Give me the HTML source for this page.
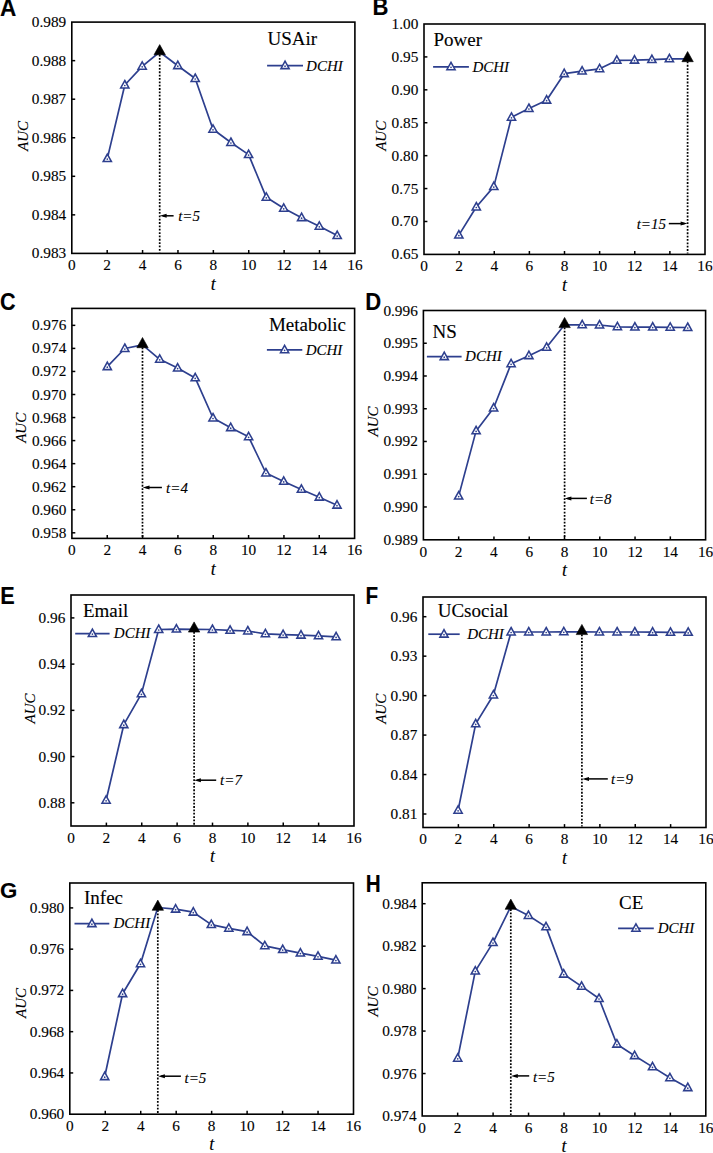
<!DOCTYPE html>
<html><head><meta charset="utf-8"><title>AUC vs t</title>
<style>
html,body{margin:0;padding:0;background:#fff;}
body{width:713px;height:1153px;overflow:hidden;}
svg{display:block;}
text{font-family:"Liberation Serif",serif;fill:#000;stroke:#000;stroke-width:0.12px;}
.tk{font-size:15.3px;}
.ti{font-size:19px;}
.lg{font-size:15px;font-style:italic;}
.an{font-size:15px;font-style:italic;}
.au{font-size:15px;font-style:italic;}
.xl{font-size:18px;font-style:italic;}
.le{font-family:"Liberation Sans",sans-serif;font-weight:bold;font-size:23px;fill:#000;}
.ax{stroke:#000;stroke-width:1.5;}
.fr{fill:none;stroke:#000;stroke-width:1.6;}
.dl{fill:none;stroke:#2d3f8e;stroke-width:1.7;stroke-linejoin:round;}
.dot{stroke:#000;stroke-width:1.7;stroke-dasharray:1.8 1.55;}
.ar{stroke:#000;stroke-width:1.5;}
</style></head><body>
<svg width="713" height="1153" viewBox="0 0 713 1153">
<rect width="713" height="1153" fill="#fff"/>
<text x="66.2" y="258.4" text-anchor="end" class="tk">0.983</text>
<text x="66.2" y="219.85" text-anchor="end" class="tk">0.984</text>
<line x1="71.8" y1="214.85" x2="75.2" y2="214.85" class="ax"/>
<text x="66.2" y="181.3" text-anchor="end" class="tk">0.985</text>
<line x1="71.8" y1="176.3" x2="75.2" y2="176.3" class="ax"/>
<text x="66.2" y="142.75" text-anchor="end" class="tk">0.986</text>
<line x1="71.8" y1="137.75" x2="75.2" y2="137.75" class="ax"/>
<text x="66.2" y="104.2" text-anchor="end" class="tk">0.987</text>
<line x1="71.8" y1="99.2" x2="75.2" y2="99.2" class="ax"/>
<text x="66.2" y="65.65" text-anchor="end" class="tk">0.988</text>
<line x1="71.8" y1="60.65" x2="75.2" y2="60.65" class="ax"/>
<text x="66.2" y="27.1" text-anchor="end" class="tk">0.989</text>
<text x="71.8" y="270.2" text-anchor="middle" class="tk">0</text>
<text x="107.19" y="270.2" text-anchor="middle" class="tk">2</text>
<line x1="107.19" y1="253.4" x2="107.19" y2="250" class="ax"/>
<text x="142.57" y="270.2" text-anchor="middle" class="tk">4</text>
<line x1="142.57" y1="253.4" x2="142.57" y2="250" class="ax"/>
<text x="177.96" y="270.2" text-anchor="middle" class="tk">6</text>
<line x1="177.96" y1="253.4" x2="177.96" y2="250" class="ax"/>
<text x="213.35" y="270.2" text-anchor="middle" class="tk">8</text>
<line x1="213.35" y1="253.4" x2="213.35" y2="250" class="ax"/>
<text x="248.74" y="270.2" text-anchor="middle" class="tk">10</text>
<line x1="248.74" y1="253.4" x2="248.74" y2="250" class="ax"/>
<text x="284.12" y="270.2" text-anchor="middle" class="tk">12</text>
<line x1="284.12" y1="253.4" x2="284.12" y2="250" class="ax"/>
<text x="319.51" y="270.2" text-anchor="middle" class="tk">14</text>
<line x1="319.51" y1="253.4" x2="319.51" y2="250" class="ax"/>
<text x="354.9" y="270.2" text-anchor="middle" class="tk">16</text>
<rect x="71.8" y="22.1" width="283.1" height="231.3" class="fr"/>
<line x1="159.7" y1="54.6" x2="159.7" y2="252.4" class="dot"/>
<polyline points="107.3,158.6 124.8,85 142.2,66.3 159.7,52 177.8,65.7 195.2,78.5 213,129.3 230.9,142.5 248.6,154.6 266.3,197.3 283.7,208.3 301.6,217.7 319.3,226.3 337.2,235.6" class="dl"/>
<path d="M107.3 154.1L111.4 161.5L103.2 161.5Z" fill="#fff" stroke="#2d3f8e" stroke-width="1.55" stroke-linejoin="miter"/><circle cx="107.3" cy="159.1" r="0.85" fill="#2d3f8e"/>
<path d="M124.8 80.5L128.9 87.9L120.7 87.9Z" fill="#fff" stroke="#2d3f8e" stroke-width="1.55" stroke-linejoin="miter"/><circle cx="124.8" cy="85.5" r="0.85" fill="#2d3f8e"/>
<path d="M142.2 61.8L146.3 69.2L138.1 69.2Z" fill="#fff" stroke="#2d3f8e" stroke-width="1.55" stroke-linejoin="miter"/><circle cx="142.2" cy="66.8" r="0.85" fill="#2d3f8e"/>
<path d="M177.8 61.2L181.9 68.6L173.7 68.6Z" fill="#fff" stroke="#2d3f8e" stroke-width="1.55" stroke-linejoin="miter"/><circle cx="177.8" cy="66.2" r="0.85" fill="#2d3f8e"/>
<path d="M195.2 74L199.3 81.4L191.1 81.4Z" fill="#fff" stroke="#2d3f8e" stroke-width="1.55" stroke-linejoin="miter"/><circle cx="195.2" cy="79" r="0.85" fill="#2d3f8e"/>
<path d="M213 124.8L217.1 132.2L208.9 132.2Z" fill="#fff" stroke="#2d3f8e" stroke-width="1.55" stroke-linejoin="miter"/><circle cx="213" cy="129.8" r="0.85" fill="#2d3f8e"/>
<path d="M230.9 138L235 145.4L226.8 145.4Z" fill="#fff" stroke="#2d3f8e" stroke-width="1.55" stroke-linejoin="miter"/><circle cx="230.9" cy="143" r="0.85" fill="#2d3f8e"/>
<path d="M248.6 150.1L252.7 157.5L244.5 157.5Z" fill="#fff" stroke="#2d3f8e" stroke-width="1.55" stroke-linejoin="miter"/><circle cx="248.6" cy="155.1" r="0.85" fill="#2d3f8e"/>
<path d="M266.3 192.8L270.4 200.2L262.2 200.2Z" fill="#fff" stroke="#2d3f8e" stroke-width="1.55" stroke-linejoin="miter"/><circle cx="266.3" cy="197.8" r="0.85" fill="#2d3f8e"/>
<path d="M283.7 203.8L287.8 211.2L279.6 211.2Z" fill="#fff" stroke="#2d3f8e" stroke-width="1.55" stroke-linejoin="miter"/><circle cx="283.7" cy="208.8" r="0.85" fill="#2d3f8e"/>
<path d="M301.6 213.2L305.7 220.6L297.5 220.6Z" fill="#fff" stroke="#2d3f8e" stroke-width="1.55" stroke-linejoin="miter"/><circle cx="301.6" cy="218.2" r="0.85" fill="#2d3f8e"/>
<path d="M319.3 221.8L323.4 229.2L315.2 229.2Z" fill="#fff" stroke="#2d3f8e" stroke-width="1.55" stroke-linejoin="miter"/><circle cx="319.3" cy="226.8" r="0.85" fill="#2d3f8e"/>
<path d="M337.2 231.1L341.3 238.5L333.1 238.5Z" fill="#fff" stroke="#2d3f8e" stroke-width="1.55" stroke-linejoin="miter"/><circle cx="337.2" cy="236.1" r="0.85" fill="#2d3f8e"/>
<path d="M159.7 44.6L165.4 54.8L154 54.8Z" fill="#000" stroke="#000" stroke-width="0.6"/>
<line x1="162.8" y1="215.8" x2="173.6" y2="215.8" class="ar"/>
<path d="M159.8 215.8L166.6 213.8L166.6 217.8Z" fill="#000"/>
<text x="178.2" y="221.4" class="an">t=5</text>
<line x1="267.1" y1="65.7" x2="303" y2="65.7" class="dl"/>
<path d="M285.05 61.2L289.15 68.6L280.95 68.6Z" fill="#fff" stroke="#2d3f8e" stroke-width="1.55" stroke-linejoin="miter"/><circle cx="285.05" cy="66.2" r="0.85" fill="#2d3f8e"/>
<text x="306.1" y="70.6" class="lg">DCHI</text>
<text x="267.5" y="44.6" class="ti">USAir</text>
<text transform="translate(0 15.9) scale(0.98 1)" class="le">A</text>
<text transform="translate(28 136) rotate(-90)" text-anchor="middle" class="au">AUC</text>
<text x="213.35" y="289.6" text-anchor="middle" class="xl">t</text>
<text x="418.4" y="259.4" text-anchor="end" class="tk">0.65</text>
<text x="418.4" y="226.49" text-anchor="end" class="tk">0.70</text>
<line x1="424" y1="221.49" x2="427.4" y2="221.49" class="ax"/>
<text x="418.4" y="193.57" text-anchor="end" class="tk">0.75</text>
<line x1="424" y1="188.57" x2="427.4" y2="188.57" class="ax"/>
<text x="418.4" y="160.66" text-anchor="end" class="tk">0.80</text>
<line x1="424" y1="155.66" x2="427.4" y2="155.66" class="ax"/>
<text x="418.4" y="127.74" text-anchor="end" class="tk">0.85</text>
<line x1="424" y1="122.74" x2="427.4" y2="122.74" class="ax"/>
<text x="418.4" y="94.83" text-anchor="end" class="tk">0.90</text>
<line x1="424" y1="89.83" x2="427.4" y2="89.83" class="ax"/>
<text x="418.4" y="61.91" text-anchor="end" class="tk">0.95</text>
<line x1="424" y1="56.91" x2="427.4" y2="56.91" class="ax"/>
<text x="418.4" y="29" text-anchor="end" class="tk">1.00</text>
<text x="424" y="271.2" text-anchor="middle" class="tk">0</text>
<text x="459.12" y="271.2" text-anchor="middle" class="tk">2</text>
<line x1="459.12" y1="254.4" x2="459.12" y2="251" class="ax"/>
<text x="494.25" y="271.2" text-anchor="middle" class="tk">4</text>
<line x1="494.25" y1="254.4" x2="494.25" y2="251" class="ax"/>
<text x="529.38" y="271.2" text-anchor="middle" class="tk">6</text>
<line x1="529.38" y1="254.4" x2="529.38" y2="251" class="ax"/>
<text x="564.5" y="271.2" text-anchor="middle" class="tk">8</text>
<line x1="564.5" y1="254.4" x2="564.5" y2="251" class="ax"/>
<text x="599.62" y="271.2" text-anchor="middle" class="tk">10</text>
<line x1="599.62" y1="254.4" x2="599.62" y2="251" class="ax"/>
<text x="634.75" y="271.2" text-anchor="middle" class="tk">12</text>
<line x1="634.75" y1="254.4" x2="634.75" y2="251" class="ax"/>
<text x="669.88" y="271.2" text-anchor="middle" class="tk">14</text>
<line x1="669.88" y1="254.4" x2="669.88" y2="251" class="ax"/>
<text x="705" y="271.2" text-anchor="middle" class="tk">16</text>
<rect x="424" y="24" width="281" height="230.4" class="fr"/>
<line x1="687.6" y1="61.5" x2="687.6" y2="253.4" class="dot"/>
<polyline points="458.85,235.1 476.3,207 493.8,186.6 511.5,117.3 528.9,108.5 546.6,100.2 564.2,73.7 582.1,71.1 599.6,68.8 616.8,60.4 634.5,60.2 651.9,59.6 669.4,58.9 687.6,58.9" class="dl"/>
<path d="M458.85 230.6L462.95 238L454.75 238Z" fill="#fff" stroke="#2d3f8e" stroke-width="1.55" stroke-linejoin="miter"/><circle cx="458.85" cy="235.6" r="0.85" fill="#2d3f8e"/>
<path d="M476.3 202.5L480.4 209.9L472.2 209.9Z" fill="#fff" stroke="#2d3f8e" stroke-width="1.55" stroke-linejoin="miter"/><circle cx="476.3" cy="207.5" r="0.85" fill="#2d3f8e"/>
<path d="M493.8 182.1L497.9 189.5L489.7 189.5Z" fill="#fff" stroke="#2d3f8e" stroke-width="1.55" stroke-linejoin="miter"/><circle cx="493.8" cy="187.1" r="0.85" fill="#2d3f8e"/>
<path d="M511.5 112.8L515.6 120.2L507.4 120.2Z" fill="#fff" stroke="#2d3f8e" stroke-width="1.55" stroke-linejoin="miter"/><circle cx="511.5" cy="117.8" r="0.85" fill="#2d3f8e"/>
<path d="M528.9 104L533 111.4L524.8 111.4Z" fill="#fff" stroke="#2d3f8e" stroke-width="1.55" stroke-linejoin="miter"/><circle cx="528.9" cy="109" r="0.85" fill="#2d3f8e"/>
<path d="M546.6 95.7L550.7 103.1L542.5 103.1Z" fill="#fff" stroke="#2d3f8e" stroke-width="1.55" stroke-linejoin="miter"/><circle cx="546.6" cy="100.7" r="0.85" fill="#2d3f8e"/>
<path d="M564.2 69.2L568.3 76.6L560.1 76.6Z" fill="#fff" stroke="#2d3f8e" stroke-width="1.55" stroke-linejoin="miter"/><circle cx="564.2" cy="74.2" r="0.85" fill="#2d3f8e"/>
<path d="M582.1 66.6L586.2 74L578 74Z" fill="#fff" stroke="#2d3f8e" stroke-width="1.55" stroke-linejoin="miter"/><circle cx="582.1" cy="71.6" r="0.85" fill="#2d3f8e"/>
<path d="M599.6 64.3L603.7 71.7L595.5 71.7Z" fill="#fff" stroke="#2d3f8e" stroke-width="1.55" stroke-linejoin="miter"/><circle cx="599.6" cy="69.3" r="0.85" fill="#2d3f8e"/>
<path d="M616.8 55.9L620.9 63.3L612.7 63.3Z" fill="#fff" stroke="#2d3f8e" stroke-width="1.55" stroke-linejoin="miter"/><circle cx="616.8" cy="60.9" r="0.85" fill="#2d3f8e"/>
<path d="M634.5 55.7L638.6 63.1L630.4 63.1Z" fill="#fff" stroke="#2d3f8e" stroke-width="1.55" stroke-linejoin="miter"/><circle cx="634.5" cy="60.7" r="0.85" fill="#2d3f8e"/>
<path d="M651.9 55.1L656 62.5L647.8 62.5Z" fill="#fff" stroke="#2d3f8e" stroke-width="1.55" stroke-linejoin="miter"/><circle cx="651.9" cy="60.1" r="0.85" fill="#2d3f8e"/>
<path d="M669.4 54.4L673.5 61.8L665.3 61.8Z" fill="#fff" stroke="#2d3f8e" stroke-width="1.55" stroke-linejoin="miter"/><circle cx="669.4" cy="59.4" r="0.85" fill="#2d3f8e"/>
<path d="M687.6 51.5L693.3 61.7L681.9 61.7Z" fill="#000" stroke="#000" stroke-width="0.6"/>
<line x1="668.8" y1="223.6" x2="684.4" y2="223.6" class="ar"/>
<path d="M687.4 223.6L680.6 221.6L680.6 225.6Z" fill="#000"/>
<text x="636.7" y="228.9" class="an">t=15</text>
<line x1="433.1" y1="66.8" x2="468.9" y2="66.8" class="dl"/>
<path d="M451 62.3L455.1 69.7L446.9 69.7Z" fill="#fff" stroke="#2d3f8e" stroke-width="1.55" stroke-linejoin="miter"/><circle cx="451" cy="67.3" r="0.85" fill="#2d3f8e"/>
<text x="472.4" y="71.7" class="lg">DCHI</text>
<text x="433.5" y="46.4" class="ti">Power</text>
<text transform="translate(372.4 15.4) scale(0.96 1)" class="le">B</text>
<text transform="translate(386.4 135.8) rotate(-90)" text-anchor="middle" class="au">AUC</text>
<text x="564.5" y="290.6" text-anchor="middle" class="xl">t</text>
<text x="66.3" y="537.8" text-anchor="end" class="tk">0.958</text>
<line x1="71.9" y1="532.8" x2="75.3" y2="532.8" class="ax"/>
<text x="66.3" y="514.75" text-anchor="end" class="tk">0.960</text>
<line x1="71.9" y1="509.75" x2="75.3" y2="509.75" class="ax"/>
<text x="66.3" y="491.7" text-anchor="end" class="tk">0.962</text>
<line x1="71.9" y1="486.7" x2="75.3" y2="486.7" class="ax"/>
<text x="66.3" y="468.65" text-anchor="end" class="tk">0.964</text>
<line x1="71.9" y1="463.65" x2="75.3" y2="463.65" class="ax"/>
<text x="66.3" y="445.6" text-anchor="end" class="tk">0.966</text>
<line x1="71.9" y1="440.6" x2="75.3" y2="440.6" class="ax"/>
<text x="66.3" y="422.55" text-anchor="end" class="tk">0.968</text>
<line x1="71.9" y1="417.55" x2="75.3" y2="417.55" class="ax"/>
<text x="66.3" y="399.5" text-anchor="end" class="tk">0.970</text>
<line x1="71.9" y1="394.5" x2="75.3" y2="394.5" class="ax"/>
<text x="66.3" y="376.45" text-anchor="end" class="tk">0.972</text>
<line x1="71.9" y1="371.45" x2="75.3" y2="371.45" class="ax"/>
<text x="66.3" y="353.4" text-anchor="end" class="tk">0.974</text>
<line x1="71.9" y1="348.4" x2="75.3" y2="348.4" class="ax"/>
<text x="66.3" y="330.35" text-anchor="end" class="tk">0.976</text>
<line x1="71.9" y1="325.35" x2="75.3" y2="325.35" class="ax"/>
<text x="71.9" y="555.2" text-anchor="middle" class="tk">0</text>
<text x="107.24" y="555.2" text-anchor="middle" class="tk">2</text>
<line x1="107.24" y1="538.4" x2="107.24" y2="535" class="ax"/>
<text x="142.58" y="555.2" text-anchor="middle" class="tk">4</text>
<line x1="142.58" y1="538.4" x2="142.58" y2="535" class="ax"/>
<text x="177.91" y="555.2" text-anchor="middle" class="tk">6</text>
<line x1="177.91" y1="538.4" x2="177.91" y2="535" class="ax"/>
<text x="213.25" y="555.2" text-anchor="middle" class="tk">8</text>
<line x1="213.25" y1="538.4" x2="213.25" y2="535" class="ax"/>
<text x="248.59" y="555.2" text-anchor="middle" class="tk">10</text>
<line x1="248.59" y1="538.4" x2="248.59" y2="535" class="ax"/>
<text x="283.93" y="555.2" text-anchor="middle" class="tk">12</text>
<line x1="283.93" y1="538.4" x2="283.93" y2="535" class="ax"/>
<text x="319.26" y="555.2" text-anchor="middle" class="tk">14</text>
<line x1="319.26" y1="538.4" x2="319.26" y2="535" class="ax"/>
<text x="354.6" y="555.2" text-anchor="middle" class="tk">16</text>
<rect x="71.9" y="308.4" width="282.7" height="230" class="fr"/>
<line x1="142.5" y1="347.5" x2="142.5" y2="537.4" class="dot"/>
<polyline points="107.3,366.7 124.8,348.5 142.5,344.9 159.7,359.3 177.6,368.1 195.2,377.9 213,418 230.7,427.7 248.6,436.8 265.9,473 283.7,481.4 301.4,489.4 319.3,497.2 337,505.2" class="dl"/>
<path d="M107.3 362.2L111.4 369.6L103.2 369.6Z" fill="#fff" stroke="#2d3f8e" stroke-width="1.55" stroke-linejoin="miter"/><circle cx="107.3" cy="367.2" r="0.85" fill="#2d3f8e"/>
<path d="M124.8 344L128.9 351.4L120.7 351.4Z" fill="#fff" stroke="#2d3f8e" stroke-width="1.55" stroke-linejoin="miter"/><circle cx="124.8" cy="349" r="0.85" fill="#2d3f8e"/>
<path d="M159.7 354.8L163.8 362.2L155.6 362.2Z" fill="#fff" stroke="#2d3f8e" stroke-width="1.55" stroke-linejoin="miter"/><circle cx="159.7" cy="359.8" r="0.85" fill="#2d3f8e"/>
<path d="M177.6 363.6L181.7 371L173.5 371Z" fill="#fff" stroke="#2d3f8e" stroke-width="1.55" stroke-linejoin="miter"/><circle cx="177.6" cy="368.6" r="0.85" fill="#2d3f8e"/>
<path d="M195.2 373.4L199.3 380.8L191.1 380.8Z" fill="#fff" stroke="#2d3f8e" stroke-width="1.55" stroke-linejoin="miter"/><circle cx="195.2" cy="378.4" r="0.85" fill="#2d3f8e"/>
<path d="M213 413.5L217.1 420.9L208.9 420.9Z" fill="#fff" stroke="#2d3f8e" stroke-width="1.55" stroke-linejoin="miter"/><circle cx="213" cy="418.5" r="0.85" fill="#2d3f8e"/>
<path d="M230.7 423.2L234.8 430.6L226.6 430.6Z" fill="#fff" stroke="#2d3f8e" stroke-width="1.55" stroke-linejoin="miter"/><circle cx="230.7" cy="428.2" r="0.85" fill="#2d3f8e"/>
<path d="M248.6 432.3L252.7 439.7L244.5 439.7Z" fill="#fff" stroke="#2d3f8e" stroke-width="1.55" stroke-linejoin="miter"/><circle cx="248.6" cy="437.3" r="0.85" fill="#2d3f8e"/>
<path d="M265.9 468.5L270 475.9L261.8 475.9Z" fill="#fff" stroke="#2d3f8e" stroke-width="1.55" stroke-linejoin="miter"/><circle cx="265.9" cy="473.5" r="0.85" fill="#2d3f8e"/>
<path d="M283.7 476.9L287.8 484.3L279.6 484.3Z" fill="#fff" stroke="#2d3f8e" stroke-width="1.55" stroke-linejoin="miter"/><circle cx="283.7" cy="481.9" r="0.85" fill="#2d3f8e"/>
<path d="M301.4 484.9L305.5 492.3L297.3 492.3Z" fill="#fff" stroke="#2d3f8e" stroke-width="1.55" stroke-linejoin="miter"/><circle cx="301.4" cy="489.9" r="0.85" fill="#2d3f8e"/>
<path d="M319.3 492.7L323.4 500.1L315.2 500.1Z" fill="#fff" stroke="#2d3f8e" stroke-width="1.55" stroke-linejoin="miter"/><circle cx="319.3" cy="497.7" r="0.85" fill="#2d3f8e"/>
<path d="M337 500.7L341.1 508.1L332.9 508.1Z" fill="#fff" stroke="#2d3f8e" stroke-width="1.55" stroke-linejoin="miter"/><circle cx="337" cy="505.7" r="0.85" fill="#2d3f8e"/>
<path d="M142.5 337.5L148.2 347.7L136.8 347.7Z" fill="#000" stroke="#000" stroke-width="0.6"/>
<line x1="145.7" y1="487.5" x2="161.9" y2="487.5" class="ar"/>
<path d="M142.7 487.5L149.5 485.5L149.5 489.5Z" fill="#000"/>
<text x="166.1" y="492.7" class="an">t=4</text>
<line x1="266.9" y1="349.8" x2="302.3" y2="349.8" class="dl"/>
<path d="M284.6 345.3L288.7 352.7L280.5 352.7Z" fill="#fff" stroke="#2d3f8e" stroke-width="1.55" stroke-linejoin="miter"/><circle cx="284.6" cy="350.3" r="0.85" fill="#2d3f8e"/>
<text x="305.7" y="354.9" class="lg">DCHI</text>
<text x="268.9" y="331.4" class="ti">Metabolic</text>
<text transform="translate(0.1 309.9) scale(0.94 1)" class="le">C</text>
<text transform="translate(25.6 427.8) rotate(-90)" text-anchor="middle" class="au">AUC</text>
<text x="213.25" y="574.6" text-anchor="middle" class="xl">t</text>
<text x="417.8" y="544.7" text-anchor="end" class="tk">0.989</text>
<text x="417.8" y="511.96" text-anchor="end" class="tk">0.990</text>
<line x1="423.4" y1="506.96" x2="426.8" y2="506.96" class="ax"/>
<text x="417.8" y="479.21" text-anchor="end" class="tk">0.991</text>
<line x1="423.4" y1="474.21" x2="426.8" y2="474.21" class="ax"/>
<text x="417.8" y="446.47" text-anchor="end" class="tk">0.992</text>
<line x1="423.4" y1="441.47" x2="426.8" y2="441.47" class="ax"/>
<text x="417.8" y="413.73" text-anchor="end" class="tk">0.993</text>
<line x1="423.4" y1="408.73" x2="426.8" y2="408.73" class="ax"/>
<text x="417.8" y="380.99" text-anchor="end" class="tk">0.994</text>
<line x1="423.4" y1="375.99" x2="426.8" y2="375.99" class="ax"/>
<text x="417.8" y="348.24" text-anchor="end" class="tk">0.995</text>
<line x1="423.4" y1="343.24" x2="426.8" y2="343.24" class="ax"/>
<text x="417.8" y="315.5" text-anchor="end" class="tk">0.996</text>
<text x="423.4" y="556.6" text-anchor="middle" class="tk">0</text>
<text x="458.67" y="556.6" text-anchor="middle" class="tk">2</text>
<line x1="458.67" y1="539.8" x2="458.67" y2="536.4" class="ax"/>
<text x="493.95" y="556.6" text-anchor="middle" class="tk">4</text>
<line x1="493.95" y1="539.8" x2="493.95" y2="536.4" class="ax"/>
<text x="529.23" y="556.6" text-anchor="middle" class="tk">6</text>
<line x1="529.23" y1="539.8" x2="529.23" y2="536.4" class="ax"/>
<text x="564.5" y="556.6" text-anchor="middle" class="tk">8</text>
<line x1="564.5" y1="539.8" x2="564.5" y2="536.4" class="ax"/>
<text x="599.77" y="556.6" text-anchor="middle" class="tk">10</text>
<line x1="599.77" y1="539.8" x2="599.77" y2="536.4" class="ax"/>
<text x="635.05" y="556.6" text-anchor="middle" class="tk">12</text>
<line x1="635.05" y1="539.8" x2="635.05" y2="536.4" class="ax"/>
<text x="670.33" y="556.6" text-anchor="middle" class="tk">14</text>
<line x1="670.33" y1="539.8" x2="670.33" y2="536.4" class="ax"/>
<text x="705.6" y="556.6" text-anchor="middle" class="tk">16</text>
<rect x="423.4" y="310.5" width="282.2" height="229.3" class="fr"/>
<line x1="564.6" y1="327.4" x2="564.6" y2="538.8" class="dot"/>
<polyline points="458.65,496.1 476.1,430.9 493.6,408 511.1,363.8 528.9,355.7 546.6,347.3 564.6,324.8 582.2,324.8 599.5,325 617.4,326.8 634.9,327.1 652.7,327.1 670.2,327.3 687.7,327.5" class="dl"/>
<path d="M458.65 491.6L462.75 499L454.55 499Z" fill="#fff" stroke="#2d3f8e" stroke-width="1.55" stroke-linejoin="miter"/><circle cx="458.65" cy="496.6" r="0.85" fill="#2d3f8e"/>
<path d="M476.1 426.4L480.2 433.8L472 433.8Z" fill="#fff" stroke="#2d3f8e" stroke-width="1.55" stroke-linejoin="miter"/><circle cx="476.1" cy="431.4" r="0.85" fill="#2d3f8e"/>
<path d="M493.6 403.5L497.7 410.9L489.5 410.9Z" fill="#fff" stroke="#2d3f8e" stroke-width="1.55" stroke-linejoin="miter"/><circle cx="493.6" cy="408.5" r="0.85" fill="#2d3f8e"/>
<path d="M511.1 359.3L515.2 366.7L507 366.7Z" fill="#fff" stroke="#2d3f8e" stroke-width="1.55" stroke-linejoin="miter"/><circle cx="511.1" cy="364.3" r="0.85" fill="#2d3f8e"/>
<path d="M528.9 351.2L533 358.6L524.8 358.6Z" fill="#fff" stroke="#2d3f8e" stroke-width="1.55" stroke-linejoin="miter"/><circle cx="528.9" cy="356.2" r="0.85" fill="#2d3f8e"/>
<path d="M546.6 342.8L550.7 350.2L542.5 350.2Z" fill="#fff" stroke="#2d3f8e" stroke-width="1.55" stroke-linejoin="miter"/><circle cx="546.6" cy="347.8" r="0.85" fill="#2d3f8e"/>
<path d="M582.2 320.3L586.3 327.7L578.1 327.7Z" fill="#fff" stroke="#2d3f8e" stroke-width="1.55" stroke-linejoin="miter"/><circle cx="582.2" cy="325.3" r="0.85" fill="#2d3f8e"/>
<path d="M599.5 320.5L603.6 327.9L595.4 327.9Z" fill="#fff" stroke="#2d3f8e" stroke-width="1.55" stroke-linejoin="miter"/><circle cx="599.5" cy="325.5" r="0.85" fill="#2d3f8e"/>
<path d="M617.4 322.3L621.5 329.7L613.3 329.7Z" fill="#fff" stroke="#2d3f8e" stroke-width="1.55" stroke-linejoin="miter"/><circle cx="617.4" cy="327.3" r="0.85" fill="#2d3f8e"/>
<path d="M634.9 322.6L639 330L630.8 330Z" fill="#fff" stroke="#2d3f8e" stroke-width="1.55" stroke-linejoin="miter"/><circle cx="634.9" cy="327.6" r="0.85" fill="#2d3f8e"/>
<path d="M652.7 322.6L656.8 330L648.6 330Z" fill="#fff" stroke="#2d3f8e" stroke-width="1.55" stroke-linejoin="miter"/><circle cx="652.7" cy="327.6" r="0.85" fill="#2d3f8e"/>
<path d="M670.2 322.8L674.3 330.2L666.1 330.2Z" fill="#fff" stroke="#2d3f8e" stroke-width="1.55" stroke-linejoin="miter"/><circle cx="670.2" cy="327.8" r="0.85" fill="#2d3f8e"/>
<path d="M687.7 323L691.8 330.4L683.6 330.4Z" fill="#fff" stroke="#2d3f8e" stroke-width="1.55" stroke-linejoin="miter"/><circle cx="687.7" cy="328" r="0.85" fill="#2d3f8e"/>
<path d="M564.6 317.4L570.3 327.6L558.9 327.6Z" fill="#000" stroke="#000" stroke-width="0.6"/>
<line x1="567.6" y1="498.4" x2="586.9" y2="498.4" class="ar"/>
<path d="M564.6 498.4L571.4 496.4L571.4 500.4Z" fill="#000"/>
<text x="589.8" y="503.9" class="an">t=8</text>
<line x1="426.9" y1="356.7" x2="461.6" y2="356.7" class="dl"/>
<path d="M444.25 352.2L448.35 359.6L440.15 359.6Z" fill="#fff" stroke="#2d3f8e" stroke-width="1.55" stroke-linejoin="miter"/><circle cx="444.25" cy="357.2" r="0.85" fill="#2d3f8e"/>
<text x="465.1" y="361.2" class="lg">DCHI</text>
<text x="432.5" y="338" class="ti">NS</text>
<text transform="translate(365.2 310) scale(0.96 1)" class="le">D</text>
<text transform="translate(377.6 421.5) rotate(-90)" text-anchor="middle" class="au">AUC</text>
<text x="564.5" y="576" text-anchor="middle" class="xl">t</text>
<text x="65.4" y="807.8" text-anchor="end" class="tk">0.88</text>
<line x1="71" y1="802.8" x2="74.4" y2="802.8" class="ax"/>
<text x="65.4" y="761.57" text-anchor="end" class="tk">0.90</text>
<line x1="71" y1="756.57" x2="74.4" y2="756.57" class="ax"/>
<text x="65.4" y="715.35" text-anchor="end" class="tk">0.92</text>
<line x1="71" y1="710.35" x2="74.4" y2="710.35" class="ax"/>
<text x="65.4" y="669.12" text-anchor="end" class="tk">0.94</text>
<line x1="71" y1="664.12" x2="74.4" y2="664.12" class="ax"/>
<text x="65.4" y="622.9" text-anchor="end" class="tk">0.96</text>
<line x1="71" y1="617.9" x2="74.4" y2="617.9" class="ax"/>
<text x="71" y="842.8" text-anchor="middle" class="tk">0</text>
<text x="106.38" y="842.8" text-anchor="middle" class="tk">2</text>
<line x1="106.38" y1="826" x2="106.38" y2="822.6" class="ax"/>
<text x="141.75" y="842.8" text-anchor="middle" class="tk">4</text>
<line x1="141.75" y1="826" x2="141.75" y2="822.6" class="ax"/>
<text x="177.12" y="842.8" text-anchor="middle" class="tk">6</text>
<line x1="177.12" y1="826" x2="177.12" y2="822.6" class="ax"/>
<text x="212.5" y="842.8" text-anchor="middle" class="tk">8</text>
<line x1="212.5" y1="826" x2="212.5" y2="822.6" class="ax"/>
<text x="247.88" y="842.8" text-anchor="middle" class="tk">10</text>
<line x1="247.88" y1="826" x2="247.88" y2="822.6" class="ax"/>
<text x="283.25" y="842.8" text-anchor="middle" class="tk">12</text>
<line x1="283.25" y1="826" x2="283.25" y2="822.6" class="ax"/>
<text x="318.62" y="842.8" text-anchor="middle" class="tk">14</text>
<line x1="318.62" y1="826" x2="318.62" y2="822.6" class="ax"/>
<text x="354" y="842.8" text-anchor="middle" class="tk">16</text>
<rect x="71" y="595" width="283" height="231" class="fr"/>
<line x1="194.1" y1="631.9" x2="194.1" y2="825" class="dot"/>
<polyline points="106.1,800.3 123.8,724.7 141.4,693.9 158.7,629.5 176.4,629.1 194.1,629.3 212.4,629.5 230.1,630.4 247.8,631 265.4,633.8 283.1,634.6 301,635.2 318.5,635.9 336.1,636.9" class="dl"/>
<path d="M106.1 795.8L110.2 803.2L102 803.2Z" fill="#fff" stroke="#2d3f8e" stroke-width="1.55" stroke-linejoin="miter"/><circle cx="106.1" cy="800.8" r="0.85" fill="#2d3f8e"/>
<path d="M123.8 720.2L127.9 727.6L119.7 727.6Z" fill="#fff" stroke="#2d3f8e" stroke-width="1.55" stroke-linejoin="miter"/><circle cx="123.8" cy="725.2" r="0.85" fill="#2d3f8e"/>
<path d="M141.4 689.4L145.5 696.8L137.3 696.8Z" fill="#fff" stroke="#2d3f8e" stroke-width="1.55" stroke-linejoin="miter"/><circle cx="141.4" cy="694.4" r="0.85" fill="#2d3f8e"/>
<path d="M158.7 625L162.8 632.4L154.6 632.4Z" fill="#fff" stroke="#2d3f8e" stroke-width="1.55" stroke-linejoin="miter"/><circle cx="158.7" cy="630" r="0.85" fill="#2d3f8e"/>
<path d="M176.4 624.6L180.5 632L172.3 632Z" fill="#fff" stroke="#2d3f8e" stroke-width="1.55" stroke-linejoin="miter"/><circle cx="176.4" cy="629.6" r="0.85" fill="#2d3f8e"/>
<path d="M212.4 625L216.5 632.4L208.3 632.4Z" fill="#fff" stroke="#2d3f8e" stroke-width="1.55" stroke-linejoin="miter"/><circle cx="212.4" cy="630" r="0.85" fill="#2d3f8e"/>
<path d="M230.1 625.9L234.2 633.3L226 633.3Z" fill="#fff" stroke="#2d3f8e" stroke-width="1.55" stroke-linejoin="miter"/><circle cx="230.1" cy="630.9" r="0.85" fill="#2d3f8e"/>
<path d="M247.8 626.5L251.9 633.9L243.7 633.9Z" fill="#fff" stroke="#2d3f8e" stroke-width="1.55" stroke-linejoin="miter"/><circle cx="247.8" cy="631.5" r="0.85" fill="#2d3f8e"/>
<path d="M265.4 629.3L269.5 636.7L261.3 636.7Z" fill="#fff" stroke="#2d3f8e" stroke-width="1.55" stroke-linejoin="miter"/><circle cx="265.4" cy="634.3" r="0.85" fill="#2d3f8e"/>
<path d="M283.1 630.1L287.2 637.5L279 637.5Z" fill="#fff" stroke="#2d3f8e" stroke-width="1.55" stroke-linejoin="miter"/><circle cx="283.1" cy="635.1" r="0.85" fill="#2d3f8e"/>
<path d="M301 630.7L305.1 638.1L296.9 638.1Z" fill="#fff" stroke="#2d3f8e" stroke-width="1.55" stroke-linejoin="miter"/><circle cx="301" cy="635.7" r="0.85" fill="#2d3f8e"/>
<path d="M318.5 631.4L322.6 638.8L314.4 638.8Z" fill="#fff" stroke="#2d3f8e" stroke-width="1.55" stroke-linejoin="miter"/><circle cx="318.5" cy="636.4" r="0.85" fill="#2d3f8e"/>
<path d="M336.1 632.4L340.2 639.8L332 639.8Z" fill="#fff" stroke="#2d3f8e" stroke-width="1.55" stroke-linejoin="miter"/><circle cx="336.1" cy="637.4" r="0.85" fill="#2d3f8e"/>
<path d="M194.1 621.9L199.8 632.1L188.4 632.1Z" fill="#000" stroke="#000" stroke-width="0.6"/>
<line x1="197.1" y1="780.2" x2="216.2" y2="780.2" class="ar"/>
<path d="M194.1 780.2L200.9 778.2L200.9 782.2Z" fill="#000"/>
<text x="220.1" y="785.3" class="an">t=7</text>
<line x1="75.2" y1="633.6" x2="109.6" y2="633.6" class="dl"/>
<path d="M92.4 629.1L96.5 636.5L88.3 636.5Z" fill="#fff" stroke="#2d3f8e" stroke-width="1.55" stroke-linejoin="miter"/><circle cx="92.4" cy="634.1" r="0.85" fill="#2d3f8e"/>
<text x="113.8" y="637.8" class="lg">DCHI</text>
<text x="82.9" y="617.2" class="ti">Email</text>
<text transform="translate(0.2 604.3) scale(0.945 1)" class="le">E</text>
<text transform="translate(35.4 708.5) rotate(-90)" text-anchor="middle" class="au">AUC</text>
<text x="212.5" y="862.2" text-anchor="middle" class="xl">t</text>
<text x="417.4" y="819" text-anchor="end" class="tk">0.81</text>
<line x1="423" y1="814" x2="426.4" y2="814" class="ax"/>
<text x="417.4" y="779.54" text-anchor="end" class="tk">0.84</text>
<line x1="423" y1="774.54" x2="426.4" y2="774.54" class="ax"/>
<text x="417.4" y="740.08" text-anchor="end" class="tk">0.87</text>
<line x1="423" y1="735.08" x2="426.4" y2="735.08" class="ax"/>
<text x="417.4" y="700.62" text-anchor="end" class="tk">0.90</text>
<line x1="423" y1="695.62" x2="426.4" y2="695.62" class="ax"/>
<text x="417.4" y="661.16" text-anchor="end" class="tk">0.93</text>
<line x1="423" y1="656.16" x2="426.4" y2="656.16" class="ax"/>
<text x="417.4" y="621.7" text-anchor="end" class="tk">0.96</text>
<line x1="423" y1="616.7" x2="426.4" y2="616.7" class="ax"/>
<text x="423" y="844.3" text-anchor="middle" class="tk">0</text>
<text x="458.38" y="844.3" text-anchor="middle" class="tk">2</text>
<line x1="458.38" y1="827.5" x2="458.38" y2="824.1" class="ax"/>
<text x="493.75" y="844.3" text-anchor="middle" class="tk">4</text>
<line x1="493.75" y1="827.5" x2="493.75" y2="824.1" class="ax"/>
<text x="529.12" y="844.3" text-anchor="middle" class="tk">6</text>
<line x1="529.12" y1="827.5" x2="529.12" y2="824.1" class="ax"/>
<text x="564.5" y="844.3" text-anchor="middle" class="tk">8</text>
<line x1="564.5" y1="827.5" x2="564.5" y2="824.1" class="ax"/>
<text x="599.88" y="844.3" text-anchor="middle" class="tk">10</text>
<line x1="599.88" y1="827.5" x2="599.88" y2="824.1" class="ax"/>
<text x="635.25" y="844.3" text-anchor="middle" class="tk">12</text>
<line x1="635.25" y1="827.5" x2="635.25" y2="824.1" class="ax"/>
<text x="670.62" y="844.3" text-anchor="middle" class="tk">14</text>
<line x1="670.62" y1="827.5" x2="670.62" y2="824.1" class="ax"/>
<text x="706" y="844.3" text-anchor="middle" class="tk">16</text>
<rect x="423" y="597" width="283" height="230.5" class="fr"/>
<line x1="581.9" y1="634.4" x2="581.9" y2="826.5" class="dot"/>
<polyline points="458.1,810.3 475.7,723.9 493.4,695 511.1,632 528.7,632 546.2,632 563.8,631.8 581.9,631.8 599.4,632 617.1,632 634.8,632 652.6,632.2 670.5,632.4 688.2,632.4" class="dl"/>
<path d="M458.1 805.8L462.2 813.2L454 813.2Z" fill="#fff" stroke="#2d3f8e" stroke-width="1.55" stroke-linejoin="miter"/><circle cx="458.1" cy="810.8" r="0.85" fill="#2d3f8e"/>
<path d="M475.7 719.4L479.8 726.8L471.6 726.8Z" fill="#fff" stroke="#2d3f8e" stroke-width="1.55" stroke-linejoin="miter"/><circle cx="475.7" cy="724.4" r="0.85" fill="#2d3f8e"/>
<path d="M493.4 690.5L497.5 697.9L489.3 697.9Z" fill="#fff" stroke="#2d3f8e" stroke-width="1.55" stroke-linejoin="miter"/><circle cx="493.4" cy="695.5" r="0.85" fill="#2d3f8e"/>
<path d="M511.1 627.5L515.2 634.9L507 634.9Z" fill="#fff" stroke="#2d3f8e" stroke-width="1.55" stroke-linejoin="miter"/><circle cx="511.1" cy="632.5" r="0.85" fill="#2d3f8e"/>
<path d="M528.7 627.5L532.8 634.9L524.6 634.9Z" fill="#fff" stroke="#2d3f8e" stroke-width="1.55" stroke-linejoin="miter"/><circle cx="528.7" cy="632.5" r="0.85" fill="#2d3f8e"/>
<path d="M546.2 627.5L550.3 634.9L542.1 634.9Z" fill="#fff" stroke="#2d3f8e" stroke-width="1.55" stroke-linejoin="miter"/><circle cx="546.2" cy="632.5" r="0.85" fill="#2d3f8e"/>
<path d="M563.8 627.3L567.9 634.7L559.7 634.7Z" fill="#fff" stroke="#2d3f8e" stroke-width="1.55" stroke-linejoin="miter"/><circle cx="563.8" cy="632.3" r="0.85" fill="#2d3f8e"/>
<path d="M599.4 627.5L603.5 634.9L595.3 634.9Z" fill="#fff" stroke="#2d3f8e" stroke-width="1.55" stroke-linejoin="miter"/><circle cx="599.4" cy="632.5" r="0.85" fill="#2d3f8e"/>
<path d="M617.1 627.5L621.2 634.9L613 634.9Z" fill="#fff" stroke="#2d3f8e" stroke-width="1.55" stroke-linejoin="miter"/><circle cx="617.1" cy="632.5" r="0.85" fill="#2d3f8e"/>
<path d="M634.8 627.5L638.9 634.9L630.7 634.9Z" fill="#fff" stroke="#2d3f8e" stroke-width="1.55" stroke-linejoin="miter"/><circle cx="634.8" cy="632.5" r="0.85" fill="#2d3f8e"/>
<path d="M652.6 627.7L656.7 635.1L648.5 635.1Z" fill="#fff" stroke="#2d3f8e" stroke-width="1.55" stroke-linejoin="miter"/><circle cx="652.6" cy="632.7" r="0.85" fill="#2d3f8e"/>
<path d="M670.5 627.9L674.6 635.3L666.4 635.3Z" fill="#fff" stroke="#2d3f8e" stroke-width="1.55" stroke-linejoin="miter"/><circle cx="670.5" cy="632.9" r="0.85" fill="#2d3f8e"/>
<path d="M688.2 627.9L692.3 635.3L684.1 635.3Z" fill="#fff" stroke="#2d3f8e" stroke-width="1.55" stroke-linejoin="miter"/><circle cx="688.2" cy="632.9" r="0.85" fill="#2d3f8e"/>
<path d="M581.9 624.4L587.6 634.6L576.2 634.6Z" fill="#000" stroke="#000" stroke-width="0.6"/>
<line x1="585.2" y1="778.9" x2="607.8" y2="778.9" class="ar"/>
<path d="M582.2 778.9L589 776.9L589 780.9Z" fill="#000"/>
<text x="611.1" y="783.7" class="an">t=9</text>
<line x1="428.3" y1="634.2" x2="459.7" y2="634.2" class="dl"/>
<path d="M444 629.7L448.1 637.1L439.9 637.1Z" fill="#fff" stroke="#2d3f8e" stroke-width="1.55" stroke-linejoin="miter"/><circle cx="444" cy="634.7" r="0.85" fill="#2d3f8e"/>
<text x="467.2" y="639.1" class="lg">DCHI</text>
<text x="437.7" y="617.3" class="ti">UCsocial</text>
<text transform="translate(365.6 604.1) scale(0.9 1)" class="le">F</text>
<text transform="translate(386.4 708.8) rotate(-90)" text-anchor="middle" class="au">AUC</text>
<text x="564.5" y="863.7" text-anchor="middle" class="xl">t</text>
<text x="64.2" y="1119.2" text-anchor="end" class="tk">0.960</text>
<text x="64.2" y="1077.94" text-anchor="end" class="tk">0.964</text>
<line x1="69.8" y1="1072.94" x2="73.2" y2="1072.94" class="ax"/>
<text x="64.2" y="1036.68" text-anchor="end" class="tk">0.968</text>
<line x1="69.8" y1="1031.68" x2="73.2" y2="1031.68" class="ax"/>
<text x="64.2" y="995.42" text-anchor="end" class="tk">0.972</text>
<line x1="69.8" y1="990.42" x2="73.2" y2="990.42" class="ax"/>
<text x="64.2" y="954.16" text-anchor="end" class="tk">0.976</text>
<line x1="69.8" y1="949.16" x2="73.2" y2="949.16" class="ax"/>
<text x="64.2" y="912.9" text-anchor="end" class="tk">0.980</text>
<line x1="69.8" y1="907.9" x2="73.2" y2="907.9" class="ax"/>
<text x="69.8" y="1131" text-anchor="middle" class="tk">0</text>
<text x="105.26" y="1131" text-anchor="middle" class="tk">2</text>
<line x1="105.26" y1="1114.2" x2="105.26" y2="1110.8" class="ax"/>
<text x="140.72" y="1131" text-anchor="middle" class="tk">4</text>
<line x1="140.72" y1="1114.2" x2="140.72" y2="1110.8" class="ax"/>
<text x="176.19" y="1131" text-anchor="middle" class="tk">6</text>
<line x1="176.19" y1="1114.2" x2="176.19" y2="1110.8" class="ax"/>
<text x="211.65" y="1131" text-anchor="middle" class="tk">8</text>
<line x1="211.65" y1="1114.2" x2="211.65" y2="1110.8" class="ax"/>
<text x="247.11" y="1131" text-anchor="middle" class="tk">10</text>
<line x1="247.11" y1="1114.2" x2="247.11" y2="1110.8" class="ax"/>
<text x="282.57" y="1131" text-anchor="middle" class="tk">12</text>
<line x1="282.57" y1="1114.2" x2="282.57" y2="1110.8" class="ax"/>
<text x="318.04" y="1131" text-anchor="middle" class="tk">14</text>
<line x1="318.04" y1="1114.2" x2="318.04" y2="1110.8" class="ax"/>
<text x="353.5" y="1131" text-anchor="middle" class="tk">16</text>
<rect x="69.8" y="883" width="283.7" height="231.2" class="fr"/>
<line x1="157.8" y1="910.1" x2="157.8" y2="1113.2" class="dot"/>
<polyline points="104.7,1076.7 122.6,993.7 140.5,963.8 157.8,907.5 175.6,909.2 193.3,912.2 211.3,924.6 228.8,928.3 247.1,931.7 264.8,945.8 282.7,949.6 300.4,953.1 318,956.3 335.9,960.1" class="dl"/>
<path d="M104.7 1072.2L108.8 1079.6L100.6 1079.6Z" fill="#fff" stroke="#2d3f8e" stroke-width="1.55" stroke-linejoin="miter"/><circle cx="104.7" cy="1077.2" r="0.85" fill="#2d3f8e"/>
<path d="M122.6 989.2L126.7 996.6L118.5 996.6Z" fill="#fff" stroke="#2d3f8e" stroke-width="1.55" stroke-linejoin="miter"/><circle cx="122.6" cy="994.2" r="0.85" fill="#2d3f8e"/>
<path d="M140.5 959.3L144.6 966.7L136.4 966.7Z" fill="#fff" stroke="#2d3f8e" stroke-width="1.55" stroke-linejoin="miter"/><circle cx="140.5" cy="964.3" r="0.85" fill="#2d3f8e"/>
<path d="M175.6 904.7L179.7 912.1L171.5 912.1Z" fill="#fff" stroke="#2d3f8e" stroke-width="1.55" stroke-linejoin="miter"/><circle cx="175.6" cy="909.7" r="0.85" fill="#2d3f8e"/>
<path d="M193.3 907.7L197.4 915.1L189.2 915.1Z" fill="#fff" stroke="#2d3f8e" stroke-width="1.55" stroke-linejoin="miter"/><circle cx="193.3" cy="912.7" r="0.85" fill="#2d3f8e"/>
<path d="M211.3 920.1L215.4 927.5L207.2 927.5Z" fill="#fff" stroke="#2d3f8e" stroke-width="1.55" stroke-linejoin="miter"/><circle cx="211.3" cy="925.1" r="0.85" fill="#2d3f8e"/>
<path d="M228.8 923.8L232.9 931.2L224.7 931.2Z" fill="#fff" stroke="#2d3f8e" stroke-width="1.55" stroke-linejoin="miter"/><circle cx="228.8" cy="928.8" r="0.85" fill="#2d3f8e"/>
<path d="M247.1 927.2L251.2 934.6L243 934.6Z" fill="#fff" stroke="#2d3f8e" stroke-width="1.55" stroke-linejoin="miter"/><circle cx="247.1" cy="932.2" r="0.85" fill="#2d3f8e"/>
<path d="M264.8 941.3L268.9 948.7L260.7 948.7Z" fill="#fff" stroke="#2d3f8e" stroke-width="1.55" stroke-linejoin="miter"/><circle cx="264.8" cy="946.3" r="0.85" fill="#2d3f8e"/>
<path d="M282.7 945.1L286.8 952.5L278.6 952.5Z" fill="#fff" stroke="#2d3f8e" stroke-width="1.55" stroke-linejoin="miter"/><circle cx="282.7" cy="950.1" r="0.85" fill="#2d3f8e"/>
<path d="M300.4 948.6L304.5 956L296.3 956Z" fill="#fff" stroke="#2d3f8e" stroke-width="1.55" stroke-linejoin="miter"/><circle cx="300.4" cy="953.6" r="0.85" fill="#2d3f8e"/>
<path d="M318 951.8L322.1 959.2L313.9 959.2Z" fill="#fff" stroke="#2d3f8e" stroke-width="1.55" stroke-linejoin="miter"/><circle cx="318" cy="956.8" r="0.85" fill="#2d3f8e"/>
<path d="M335.9 955.6L340 963L331.8 963Z" fill="#fff" stroke="#2d3f8e" stroke-width="1.55" stroke-linejoin="miter"/><circle cx="335.9" cy="960.6" r="0.85" fill="#2d3f8e"/>
<path d="M157.8 900.1L163.5 910.3L152.1 910.3Z" fill="#000" stroke="#000" stroke-width="0.6"/>
<line x1="161.1" y1="1076.2" x2="180.9" y2="1076.2" class="ar"/>
<path d="M158.1 1076.2L164.9 1074.2L164.9 1078.2Z" fill="#000"/>
<text x="184.5" y="1082.7" class="an">t=5</text>
<line x1="74.5" y1="923.7" x2="109.3" y2="923.7" class="dl"/>
<path d="M91.9 919.2L96 926.6L87.8 926.6Z" fill="#fff" stroke="#2d3f8e" stroke-width="1.55" stroke-linejoin="miter"/><circle cx="91.9" cy="924.2" r="0.85" fill="#2d3f8e"/>
<text x="113.5" y="927.9" class="lg">DCHI</text>
<text x="84" y="904.3" class="ti">Infec</text>
<text transform="translate(0 897.6) scale(0.97 1)" class="le">G</text>
<text transform="translate(25.9 1003) rotate(-90)" text-anchor="middle" class="au">AUC</text>
<text x="211.65" y="1150.4" text-anchor="middle" class="xl">t</text>
<text x="416.6" y="1121" text-anchor="end" class="tk">0.974</text>
<text x="416.6" y="1078.54" text-anchor="end" class="tk">0.976</text>
<line x1="422.2" y1="1073.54" x2="425.6" y2="1073.54" class="ax"/>
<text x="416.6" y="1036.08" text-anchor="end" class="tk">0.978</text>
<line x1="422.2" y1="1031.08" x2="425.6" y2="1031.08" class="ax"/>
<text x="416.6" y="993.62" text-anchor="end" class="tk">0.980</text>
<line x1="422.2" y1="988.62" x2="425.6" y2="988.62" class="ax"/>
<text x="416.6" y="951.16" text-anchor="end" class="tk">0.982</text>
<line x1="422.2" y1="946.16" x2="425.6" y2="946.16" class="ax"/>
<text x="416.6" y="908.7" text-anchor="end" class="tk">0.984</text>
<line x1="422.2" y1="903.7" x2="425.6" y2="903.7" class="ax"/>
<text x="422.2" y="1132.8" text-anchor="middle" class="tk">0</text>
<text x="457.65" y="1132.8" text-anchor="middle" class="tk">2</text>
<line x1="457.65" y1="1116" x2="457.65" y2="1112.6" class="ax"/>
<text x="493.1" y="1132.8" text-anchor="middle" class="tk">4</text>
<line x1="493.1" y1="1116" x2="493.1" y2="1112.6" class="ax"/>
<text x="528.55" y="1132.8" text-anchor="middle" class="tk">6</text>
<line x1="528.55" y1="1116" x2="528.55" y2="1112.6" class="ax"/>
<text x="564" y="1132.8" text-anchor="middle" class="tk">8</text>
<line x1="564" y1="1116" x2="564" y2="1112.6" class="ax"/>
<text x="599.45" y="1132.8" text-anchor="middle" class="tk">10</text>
<line x1="599.45" y1="1116" x2="599.45" y2="1112.6" class="ax"/>
<text x="634.9" y="1132.8" text-anchor="middle" class="tk">12</text>
<line x1="634.9" y1="1116" x2="634.9" y2="1112.6" class="ax"/>
<text x="670.35" y="1132.8" text-anchor="middle" class="tk">14</text>
<line x1="670.35" y1="1116" x2="670.35" y2="1112.6" class="ax"/>
<text x="705.8" y="1132.8" text-anchor="middle" class="tk">16</text>
<rect x="422.2" y="882.8" width="283.6" height="233.2" class="fr"/>
<line x1="510.8" y1="909.1" x2="510.8" y2="1115" class="dot"/>
<polyline points="457.7,1058.3 475.3,971.1 493,942.6 510.8,906.5 528.4,915.5 546,926.9 563.7,974.2 581.6,986.4 599,998.5 616.9,1044.2 634.6,1055.7 652.5,1066.9 669.9,1077.8 687.8,1087.7" class="dl"/>
<path d="M457.7 1053.8L461.8 1061.2L453.6 1061.2Z" fill="#fff" stroke="#2d3f8e" stroke-width="1.55" stroke-linejoin="miter"/><circle cx="457.7" cy="1058.8" r="0.85" fill="#2d3f8e"/>
<path d="M475.3 966.6L479.4 974L471.2 974Z" fill="#fff" stroke="#2d3f8e" stroke-width="1.55" stroke-linejoin="miter"/><circle cx="475.3" cy="971.6" r="0.85" fill="#2d3f8e"/>
<path d="M493 938.1L497.1 945.5L488.9 945.5Z" fill="#fff" stroke="#2d3f8e" stroke-width="1.55" stroke-linejoin="miter"/><circle cx="493" cy="943.1" r="0.85" fill="#2d3f8e"/>
<path d="M528.4 911L532.5 918.4L524.3 918.4Z" fill="#fff" stroke="#2d3f8e" stroke-width="1.55" stroke-linejoin="miter"/><circle cx="528.4" cy="916" r="0.85" fill="#2d3f8e"/>
<path d="M546 922.4L550.1 929.8L541.9 929.8Z" fill="#fff" stroke="#2d3f8e" stroke-width="1.55" stroke-linejoin="miter"/><circle cx="546" cy="927.4" r="0.85" fill="#2d3f8e"/>
<path d="M563.7 969.7L567.8 977.1L559.6 977.1Z" fill="#fff" stroke="#2d3f8e" stroke-width="1.55" stroke-linejoin="miter"/><circle cx="563.7" cy="974.7" r="0.85" fill="#2d3f8e"/>
<path d="M581.6 981.9L585.7 989.3L577.5 989.3Z" fill="#fff" stroke="#2d3f8e" stroke-width="1.55" stroke-linejoin="miter"/><circle cx="581.6" cy="986.9" r="0.85" fill="#2d3f8e"/>
<path d="M599 994L603.1 1001.4L594.9 1001.4Z" fill="#fff" stroke="#2d3f8e" stroke-width="1.55" stroke-linejoin="miter"/><circle cx="599" cy="999" r="0.85" fill="#2d3f8e"/>
<path d="M616.9 1039.7L621 1047.1L612.8 1047.1Z" fill="#fff" stroke="#2d3f8e" stroke-width="1.55" stroke-linejoin="miter"/><circle cx="616.9" cy="1044.7" r="0.85" fill="#2d3f8e"/>
<path d="M634.6 1051.2L638.7 1058.6L630.5 1058.6Z" fill="#fff" stroke="#2d3f8e" stroke-width="1.55" stroke-linejoin="miter"/><circle cx="634.6" cy="1056.2" r="0.85" fill="#2d3f8e"/>
<path d="M652.5 1062.4L656.6 1069.8L648.4 1069.8Z" fill="#fff" stroke="#2d3f8e" stroke-width="1.55" stroke-linejoin="miter"/><circle cx="652.5" cy="1067.4" r="0.85" fill="#2d3f8e"/>
<path d="M669.9 1073.3L674 1080.7L665.8 1080.7Z" fill="#fff" stroke="#2d3f8e" stroke-width="1.55" stroke-linejoin="miter"/><circle cx="669.9" cy="1078.3" r="0.85" fill="#2d3f8e"/>
<path d="M687.8 1083.2L691.9 1090.6L683.7 1090.6Z" fill="#fff" stroke="#2d3f8e" stroke-width="1.55" stroke-linejoin="miter"/><circle cx="687.8" cy="1088.2" r="0.85" fill="#2d3f8e"/>
<path d="M510.8 899.1L516.5 909.3L505.1 909.3Z" fill="#000" stroke="#000" stroke-width="0.6"/>
<line x1="514" y1="1075.9" x2="529.2" y2="1075.9" class="ar"/>
<path d="M511 1075.9L517.8 1073.9L517.8 1077.9Z" fill="#000"/>
<text x="532.9" y="1081.7" class="an">t=5</text>
<line x1="618.1" y1="928.3" x2="653.8" y2="928.3" class="dl"/>
<path d="M635.95 923.8L640.05 931.2L631.85 931.2Z" fill="#fff" stroke="#2d3f8e" stroke-width="1.55" stroke-linejoin="miter"/><circle cx="635.95" cy="928.8" r="0.85" fill="#2d3f8e"/>
<text x="657.7" y="932.8" class="lg">DCHI</text>
<text x="619" y="908.6" class="ti">CE</text>
<text transform="translate(365.7 892.2) scale(0.9 1)" class="le">H</text>
<text transform="translate(378 1001.6) rotate(-90)" text-anchor="middle" class="au">AUC</text>
<text x="564" y="1152.2" text-anchor="middle" class="xl">t</text>
</svg>
</body></html>
